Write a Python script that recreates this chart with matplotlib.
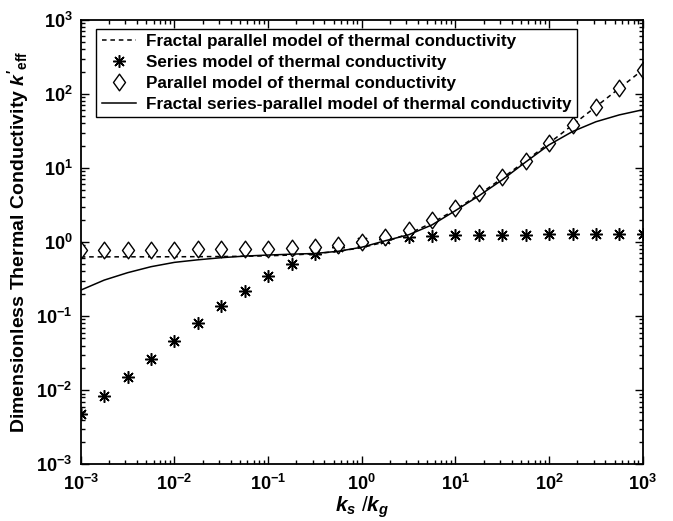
import numpy as np
import matplotlib
matplotlib.use("Agg")
import matplotlib.pyplot as plt
from matplotlib.ticker import LogLocator, NullFormatter, FixedLocator
from matplotlib.path import Path

plt.rcParams['font.family'] = ['Liberation Sans', 'DejaVu Sans']
plt.rcParams['font.weight'] = 'bold'
plt.rcParams['mathtext.fontset'] = 'custom'
plt.rcParams['mathtext.rm'] = 'Liberation Sans:bold'
plt.rcParams['mathtext.bf'] = 'Liberation Sans:bold'
plt.rcParams['mathtext.it'] = 'Liberation Sans:bold:italic'

# ks/kg sample points (quarter decades from 1e-3 to 1e3)
ratio = [0.001, 0.00178, 0.00316, 0.00562, 0.01, 0.0178, 0.0316, 0.0562,
         0.1, 0.178, 0.316, 0.562, 1.0, 1.78, 3.16, 5.62,
         10.0, 17.8, 31.6, 56.2, 100.0, 178.0, 316.0, 562.0, 1000.0]

fractal_parallel = [0.630, 0.630, 0.631, 0.631, 0.632, 0.634, 0.637, 0.642,
                    0.651, 0.667, 0.696, 0.748, 0.84, 1.003, 1.294, 1.811,
                    2.73, 4.36, 7.27, 12.44, 21.6, 38.0, 67.0, 118.7, 210.6]

series = [0.00474, 0.00841, 0.0149, 0.0262, 0.0459, 0.0794, 0.135, 0.221,
          0.346, 0.507, 0.688, 0.860, 1.0, 1.101, 1.168, 1.209,
          1.232, 1.247, 1.255, 1.260, 1.263, 1.264, 1.265, 1.265, 1.265]

parallel = [0.790, 0.790, 0.791, 0.791, 0.792, 0.794, 0.797, 0.802,
            0.811, 0.827, 0.856, 0.908, 1.0, 1.163, 1.454, 1.971,
            2.89, 4.52, 7.43, 12.6, 21.8, 38.1, 67.2, 118.9, 210.8]

fractal_series_parallel = [0.224, 0.306, 0.385, 0.464, 0.531, 0.575, 0.614, 0.645,
                           0.667, 0.685, 0.70, 0.75, 0.85, 1.04, 1.25, 1.70,
                           2.65, 4.2, 6.9, 12.0, 20.5, 31.0, 42.0, 52.0, 61.0]

decades = [1e-3, 1e-2, 1e-1, 1e0, 1e1, 1e2, 1e3]
decade_labels = [r'$\mathbf{10^{-3}}$', r'$\mathbf{10^{-2}}$', r'$\mathbf{10^{-1}}$',
                 r'$\mathbf{10^{0}}$', r'$\mathbf{10^{1}}$', r'$\mathbf{10^{2}}$',
                 r'$\mathbf{10^{3}}$']

# MATLAB-like diamond (a bit wider than matplotlib's 'd')
diamond = Path([(0, 1), (0.72, 0), (0, -1), (-0.72, 0), (0, 1)],
               [Path.MOVETO, Path.LINETO, Path.LINETO, Path.LINETO, Path.CLOSEPOLY])

fig = plt.figure(figsize=(6.73, 5.21), dpi=100)
ax = fig.add_axes([0.120, 0.109, 0.835, 0.853])

ax.plot(ratio, fractal_parallel, 'k--', lw=1.1, dashes=(3, 2.5),
        label='Fractal parallel model of thermal conductivity')
ax.plot(ratio, series, linestyle='none', marker=(8, 2, 0), color='k',
        markersize=9, markeredgewidth=1.1,
        label='Series model of thermal conductivity')
ax.plot(ratio, parallel, linestyle='none', marker=diamond, markerfacecolor='white',
        markeredgecolor='k', markersize=12, markeredgewidth=1.0,
        label='Parallel model of thermal conductivity')
ax.plot(ratio, fractal_series_parallel, 'k-', lw=1.1,
        label='Fractal series-parallel model of thermal conductivity')

ax.set_xscale('log')
ax.set_yscale('log')
ax.set_xlim(1e-3, 1e3)
ax.set_ylim(1e-3, 1e3)

ax.xaxis.set_major_locator(FixedLocator(decades))
ax.yaxis.set_major_locator(FixedLocator(decades))
ax.set_xticklabels(decade_labels)
ax.set_yticklabels(decade_labels)
for a in (ax.xaxis, ax.yaxis):
    a.set_minor_locator(LogLocator(base=10, subs=np.arange(2, 10), numticks=20))
    a.set_minor_formatter(NullFormatter())

ax.tick_params(which='both', direction='in', top=True, right=True, labelsize=13)
ax.tick_params(axis='x', which='major', pad=7)
ax.tick_params(axis='y', which='major', pad=6)
ax.tick_params(which='major', length=6, width=1.0)
ax.tick_params(which='minor', length=3, width=1.0)
for s in ax.spines.values():
    s.set_linewidth(1.3)

ax.set_xlabel(r'$\mathit{k_s}$ /$\mathit{k_g}$', fontsize=15, labelpad=0)
ax.set_ylabel(r"Dimensionless Thermal Conductivity $\mathit{k'}_{\mathbf{eff}}$",
              fontsize=14, fontweight='bold', labelpad=4)

leg = ax.legend(loc='upper left', bbox_to_anchor=(0.028, 0.98), fontsize=12.3,
                frameon=True, fancybox=False, edgecolor='k', framealpha=1,
                handlelength=2.0, handletextpad=0.6, borderpad=0.3,
                labelspacing=0.35, borderaxespad=0)
leg.get_frame().set_linewidth(1.0)
for t in leg.get_texts():
    t.set_fontweight('bold')

fig.savefig('out.png', dpi=100)
